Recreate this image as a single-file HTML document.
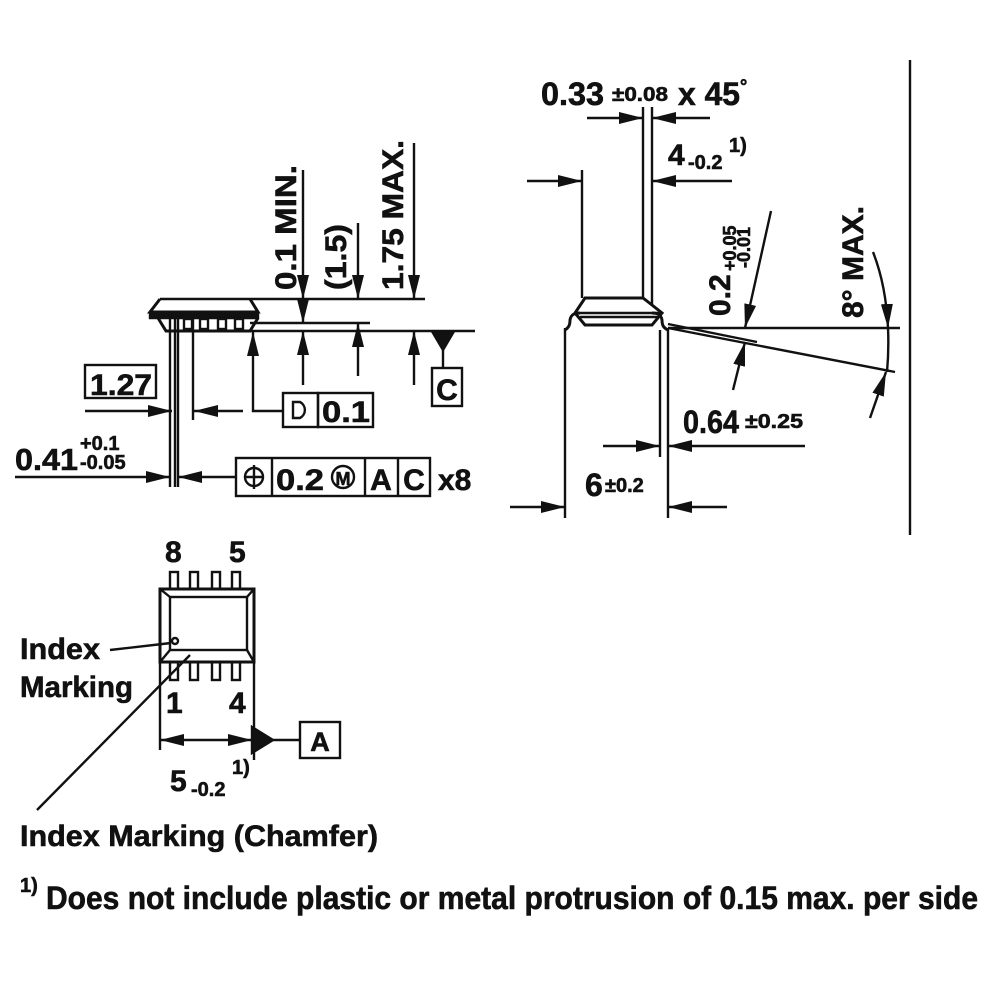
<!DOCTYPE html>
<html><head><meta charset="utf-8"><style>
html,body{margin:0;padding:0;background:#fff}
svg{display:block}
text{font-family:"Liberation Sans",Arial,sans-serif;font-weight:bold;fill:#111;stroke:#111;stroke-width:0.6}
</style></head><body>
<svg width="1000" height="1000" viewBox="0 0 1000 1000" xmlns="http://www.w3.org/2000/svg">
<defs>
<marker id="a" viewBox="0 0 24 12" refX="24" refY="6" markerWidth="24" markerHeight="12" markerUnits="userSpaceOnUse" orient="auto"><path d="M0,0 L24,6 L0,12 Z" fill="#111"/></marker>
</defs>
<g stroke="#111" stroke-width="2.4" fill="none">
<!-- LEFT SIDE VIEW -->
<line x1="160" y1="299" x2="425" y2="299"/>
<path d="M160,299 L150,312 L258,312 L250,299" stroke-width="3"/>
<path d="M150,312 L150,318 L258,318 L258,312" fill="#111"/>
<path d="M158,318 L166,331 L250,331 L258,318" stroke-width="3"/>
<rect x="184" y="319" width="8" height="10" fill="#fff"/>
<rect x="200" y="319" width="8" height="10" fill="#fff"/>
<rect x="218" y="319" width="8" height="10" fill="#fff"/>
<rect x="235" y="319" width="8" height="10" fill="#fff"/>
<line x1="250" y1="323" x2="370" y2="323"/>
<line x1="166" y1="331" x2="475" y2="331"/>
<line x1="170" y1="315" x2="170" y2="487"/>
<line x1="175" y1="315" x2="175" y2="487"/>
<line x1="178" y1="315" x2="178" y2="487"/>
<line x1="193" y1="315" x2="193" y2="420"/>
<line x1="303" y1="170" x2="303" y2="299" marker-end="url(#a)"/>
<line x1="303" y1="299" x2="303" y2="323" marker-end="url(#a)"/>
<line x1="303" y1="385" x2="303" y2="331" marker-end="url(#a)"/>
<line x1="358" y1="223" x2="358" y2="299" marker-end="url(#a)"/>
<line x1="358" y1="376" x2="358" y2="323" marker-end="url(#a)"/>
<line x1="414" y1="143" x2="414" y2="299" marker-end="url(#a)"/>
<line x1="414" y1="385" x2="414" y2="331" marker-end="url(#a)"/>
<polyline points="283,411 253,411 253,380" />
<line x1="253" y1="380" x2="253" y2="332" marker-end="url(#a)"/>
<rect x="283" y="393" width="35" height="34"/>
<rect x="318" y="393" width="55" height="34"/>
<path d="M293,402 L300,402 A9,9 0 0 1 300,418 L293,418 Z"/>
<path d="M433,333 L453,333 L443,350 Z" fill="#111"/>
<line x1="443" y1="350" x2="443" y2="368"/>
<rect x="432" y="368" width="30" height="38"/>
<rect x="85" y="365" width="71" height="33"/>
<line x1="85" y1="411" x2="172" y2="411" marker-end="url(#a)"/>
<line x1="243" y1="411" x2="194" y2="411" marker-end="url(#a)"/>
<line x1="15" y1="477" x2="170" y2="477" marker-end="url(#a)"/>
<line x1="236" y1="477" x2="178" y2="477" marker-end="url(#a)"/>
<rect x="236" y="458" width="194" height="38"/>
<line x1="272" y1="458" x2="272" y2="496"/>
<line x1="365" y1="458" x2="365" y2="496"/>
<line x1="398" y1="458" x2="398" y2="496"/>
<circle cx="254" cy="477" r="9"/>
<line x1="244" y1="477" x2="264" y2="477"/>
<line x1="254" y1="465" x2="254" y2="489"/>
<circle cx="343" cy="477" r="11"/>
<!-- RIGHT VIEW -->
<line x1="582" y1="170" x2="582" y2="298"/>
<line x1="643" y1="107" x2="643" y2="298"/>
<line x1="652" y1="107" x2="652" y2="305"/>
<line x1="527" y1="181" x2="582" y2="181" marker-end="url(#a)"/>
<line x1="732" y1="181" x2="652" y2="181" marker-end="url(#a)"/>
<line x1="587" y1="118" x2="643" y2="118" marker-end="url(#a)"/>
<line x1="710" y1="118" x2="652" y2="118" marker-end="url(#a)"/>
<path d="M585,298 L643,298 L652,305 L662,313 L652,325 L585,325 L575,313 Z" stroke-width="3"/>
<line x1="578" y1="313" x2="660" y2="313"/>
<line x1="580" y1="317" x2="658" y2="317"/>
<path d="M565,330 C568,328 570,326 570,320 C571,314 575,313 580,313" stroke-width="3"/>
<path d="M668,330 C664,328 662,326 662,320 C661,314 657,313 652,313" stroke-width="3"/>
<line x1="668" y1="328" x2="900" y2="328"/>
<line x1="668" y1="328" x2="895" y2="372"/>
<line x1="668" y1="324" x2="757" y2="342"/>
<line x1="565" y1="328" x2="565" y2="518"/>
<line x1="668" y1="328" x2="668" y2="518"/>
<line x1="660" y1="330" x2="660" y2="457"/>
<line x1="510" y1="507" x2="565" y2="507" marker-end="url(#a)"/>
<line x1="727" y1="507" x2="668" y2="507" marker-end="url(#a)"/>
<line x1="603" y1="446" x2="660" y2="446" marker-end="url(#a)"/>
<line x1="805" y1="446" x2="668" y2="446" marker-end="url(#a)"/>
<line x1="771" y1="211" x2="745" y2="328" marker-end="url(#a)"/>
<line x1="733" y1="390" x2="745" y2="342" marker-end="url(#a)"/>
<path d="M873,252 Q886,285 888,328" marker-end="url(#a)"/>
<path d="M888,328 Q889,350 887,372"/>
<line x1="870" y1="418" x2="886" y2="372" marker-end="url(#a)"/>
<line x1="910" y1="60" x2="910" y2="535"/>
<!-- TOP VIEW -->
<rect x="160" y="589" width="94" height="73" stroke-width="3"/>
<rect x="170" y="597" width="77" height="53"/>
<line x1="160" y1="589" x2="170" y2="597"/>
<line x1="254" y1="589" x2="247" y2="597"/>
<line x1="170" y1="650" x2="160" y2="662"/>
<line x1="247" y1="650" x2="254" y2="662"/>
<rect x="170" y="572" width="8" height="17"/>
<rect x="190" y="572" width="8" height="17"/>
<rect x="212" y="572" width="8" height="17"/>
<rect x="232" y="572" width="8" height="17"/>
<rect x="170" y="662" width="8" height="18"/>
<rect x="190" y="662" width="8" height="18"/>
<rect x="212" y="662" width="8" height="18"/>
<rect x="232" y="662" width="8" height="18"/>
<circle cx="175" cy="641" r="3"/>
<line x1="110" y1="650" x2="171" y2="643"/>
<line x1="37" y1="810" x2="190" y2="655"/>
<line x1="160" y1="662" x2="160" y2="750"/>
<line x1="254" y1="662" x2="254" y2="760"/>
<line x1="200" y1="740" x2="160" y2="740" marker-end="url(#a)"/>
<line x1="200" y1="740" x2="252" y2="740" marker-end="url(#a)"/>
<line x1="272" y1="740" x2="300" y2="740"/>
<path d="M252,727 L273,740 L252,753 Z" fill="#111"/>
<rect x="300" y="722" width="40" height="36"/>
</g>
<g>
<text x="90" y="395" font-size="30" textLength="62" lengthAdjust="spacingAndGlyphs">1.27</text>
<text x="322" y="422" font-size="30" textLength="48" lengthAdjust="spacingAndGlyphs">0.1</text>
<text x="447" y="400" font-size="30" text-anchor="middle">C</text>
<text x="15" y="470" font-size="31" textLength="63" lengthAdjust="spacingAndGlyphs">0.41</text>
<text x="80" y="450" font-size="20">+0.1</text>
<text x="80" y="469" font-size="20">-0.05</text>
<text x="276" y="490" font-size="30" textLength="48" lengthAdjust="spacingAndGlyphs">0.2</text>
<text x="343" y="485" font-size="18" text-anchor="middle">M</text>
<text x="381" y="490" font-size="30" text-anchor="middle">A</text>
<text x="414" y="490" font-size="30" text-anchor="middle">C</text>
<text x="438" y="490" font-size="30">x8</text>
<text transform="translate(296,290) rotate(-90)" font-size="30" textLength="125" lengthAdjust="spacingAndGlyphs">0.1 MIN.</text>
<text transform="translate(346,290) rotate(-90)" font-size="30" textLength="66" lengthAdjust="spacingAndGlyphs">(1.5)</text>
<text transform="translate(403,290) rotate(-90)" font-size="30" textLength="150" lengthAdjust="spacingAndGlyphs">1.75 MAX.</text>
<text x="541" y="105" font-size="32" textLength="63" lengthAdjust="spacingAndGlyphs">0.33</text>
<text x="612" y="101" font-size="20" textLength="56" lengthAdjust="spacingAndGlyphs">±0.08</text>
<text x="678" y="105" font-size="32" textLength="62" lengthAdjust="spacingAndGlyphs">x 45</text>
<text x="740" y="92" font-size="18">°</text>
<text x="668" y="165" font-size="30">4</text>
<text x="688" y="169" font-size="20">-0.2</text>
<text x="729" y="152" font-size="20">1)</text>
<text transform="translate(730,316) rotate(-90)" font-size="30">0.2</text>
<text transform="translate(736,271) rotate(-90)" font-size="18">+0.05</text>
<text transform="translate(750,268) rotate(-90)" font-size="18">-0.01</text>
<text transform="translate(863,318) rotate(-90)" font-size="30" textLength="112" lengthAdjust="spacingAndGlyphs">8° MAX.</text>
<text x="683" y="433" font-size="32" textLength="56" lengthAdjust="spacingAndGlyphs">0.64</text>
<text x="745" y="428" font-size="20" textLength="58" lengthAdjust="spacingAndGlyphs">±0.25</text>
<text x="585" y="496" font-size="32">6</text>
<text x="605" y="492" font-size="20">±0.2</text>
<text x="165" y="562" font-size="30">8</text>
<text x="229" y="562" font-size="30">5</text>
<text x="166" y="713" font-size="30">1</text>
<text x="229" y="713" font-size="30">4</text>
<text x="320" y="751" font-size="27" text-anchor="middle">A</text>
<text x="170" y="791" font-size="30">5</text>
<text x="191" y="796" font-size="20">-0.2</text>
<text x="232" y="774" font-size="20">1)</text>
<text x="20" y="659" font-size="30" textLength="80" lengthAdjust="spacingAndGlyphs">Index</text>
<text x="20" y="697" font-size="30" textLength="113" lengthAdjust="spacingAndGlyphs">Marking</text>
<text x="20" y="846" font-size="30" textLength="358" lengthAdjust="spacingAndGlyphs">Index Marking (Chamfer)</text>
<text x="20" y="892" font-size="20">1)</text>
<text x="46" y="909" font-size="32" textLength="932" lengthAdjust="spacingAndGlyphs">Does not include plastic or metal protrusion of 0.15 max. per side</text>
</g>
</svg>
</body></html>
